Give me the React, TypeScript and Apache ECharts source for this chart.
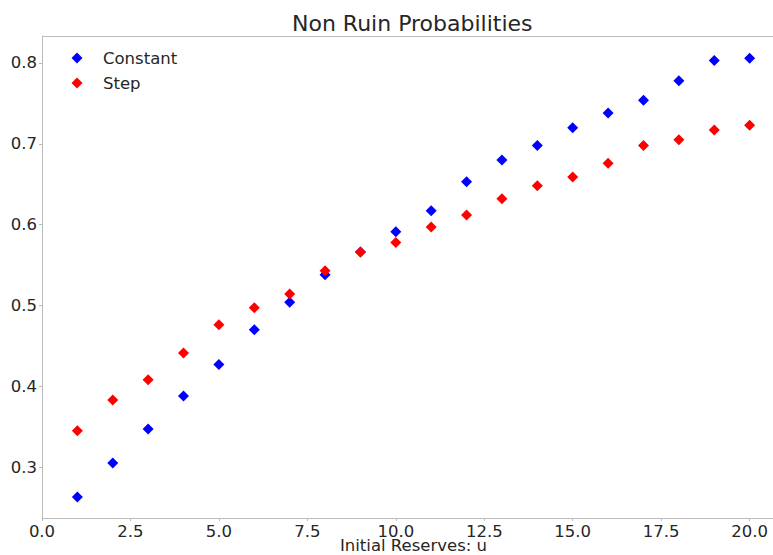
import React, { useEffect, useRef } from "react";
import * as echarts from "echarts";

const reserves = [1, 2, 3, 4, 5, 6, 7, 8, 9, 10, 11, 12, 13, 14, 15, 16, 17, 18, 19, 20];
const constantValues = [0.263, 0.305, 0.347, 0.388, 0.427, 0.470, 0.504, 0.538, 0.566, 0.591, 0.617, 0.653, 0.680, 0.698, 0.720, 0.738, 0.754, 0.778, 0.803, 0.806];
const stepValues = [0.345, 0.383, 0.408, 0.441, 0.476, 0.497, 0.514, 0.543, 0.566, 0.578, 0.597, 0.612, 0.632, 0.648, 0.659, 0.676, 0.698, 0.705, 0.717, 0.723];
const xTicks = [0, 2.5, 5, 7.5, 10, 12.5, 15, 17.5, 20];
const yTicks = [0.3, 0.4, 0.5, 0.6, 0.7, 0.8];

const FONT = "DejaVu Sans";
const TEXT = "#262626";
const SPINE = "#bcbcbc";

export default function App() {
  const ref = useRef<HTMLDivElement>(null);
  useEffect(() => {
    if (!ref.current) return;
    const chart = echarts.init(ref.current, null, { renderer: "svg" });
    chart.setOption({
      animation: false,
      backgroundColor: "#ffffff",
      title: {
        text: "Non Ruin Probabilities",
        left: 292,
        top: 12,
        padding: 0,
        textStyle: { fontFamily: FONT, fontSize: 22, fontWeight: "normal", color: TEXT },
      },
      legend: {
        orient: "vertical",
        left: 71.5,
        top: 49.5,
        padding: 0,
        icon: "diamond",
        itemWidth: 11,
        itemHeight: 11,
        itemGap: 8,
        textStyle: {
          fontFamily: FONT,
          fontSize: 16.5,
          color: TEXT,
          lineHeight: 17,
          padding: [0, 0, 0, 15.5],
        },
        data: ["Constant", "Step"],
      },
      grid: {
        left: 42,
        top: 36,
        bottom: 37,
        right: -12,
        containLabel: false,
        outerBoundsMode: "none",
      },
      xAxis: {
        type: "value",
        min: 0,
        max: 21,
        name: "Initial Reserves: u",
        nameLocation: "middle",
        nameGap: 21,
        nameMoveOverlap: false,
        nameTextStyle: { fontFamily: FONT, fontSize: 16.5, color: TEXT, lineHeight: 13 },
        axisLine: { show: true, lineStyle: { color: SPINE, width: 1 } },
        axisTick: { show: true, customValues: xTicks, length: 3, lineStyle: { color: SPINE } },
        axisLabel: {
          customValues: xTicks,
          formatter: (v: number) => v.toFixed(1),
          fontFamily: FONT,
          fontSize: 16.5,
          lineHeight: 13,
          color: TEXT,
          margin: 7,
        },
        splitLine: { show: false },
      },
      yAxis: {
        type: "value",
        min: 0.2369,
        max: 0.8334,
        axisLine: { show: true, lineStyle: { color: SPINE, width: 1 } },
        axisTick: { show: true, customValues: yTicks, length: 3, lineStyle: { color: SPINE } },
        axisLabel: {
          customValues: yTicks,
          formatter: (v: number) => v.toFixed(1),
          fontFamily: FONT,
          fontSize: 16.5,
          color: TEXT,
          margin: 5,
        },
        splitLine: { show: false },
      },
      graphic: [
        {
          type: "line",
          shape: { x1: 42, y1: 36.5, x2: 773, y2: 36.5 },
          style: { stroke: SPINE, lineWidth: 1 },
        },
      ],
      series: [
        {
          name: "Constant",
          type: "scatter",
          symbol: "diamond",
          symbolSize: 11,
          itemStyle: { color: "#0000ff", opacity: 1 },
          data: reserves.map((u, i) => [u, constantValues[i]]),
        },
        {
          name: "Step",
          type: "scatter",
          symbol: "diamond",
          symbolSize: 11,
          itemStyle: { color: "#ff0000", opacity: 1 },
          data: reserves.map((u, i) => [u, stepValues[i]]),
        },
      ],
    });
    return () => chart.dispose();
  }, []);
  return (
    <div
      ref={ref}
      style={{ position: "fixed", left: 0, top: 0, width: 773, height: 555 }}
    />
  );
}
